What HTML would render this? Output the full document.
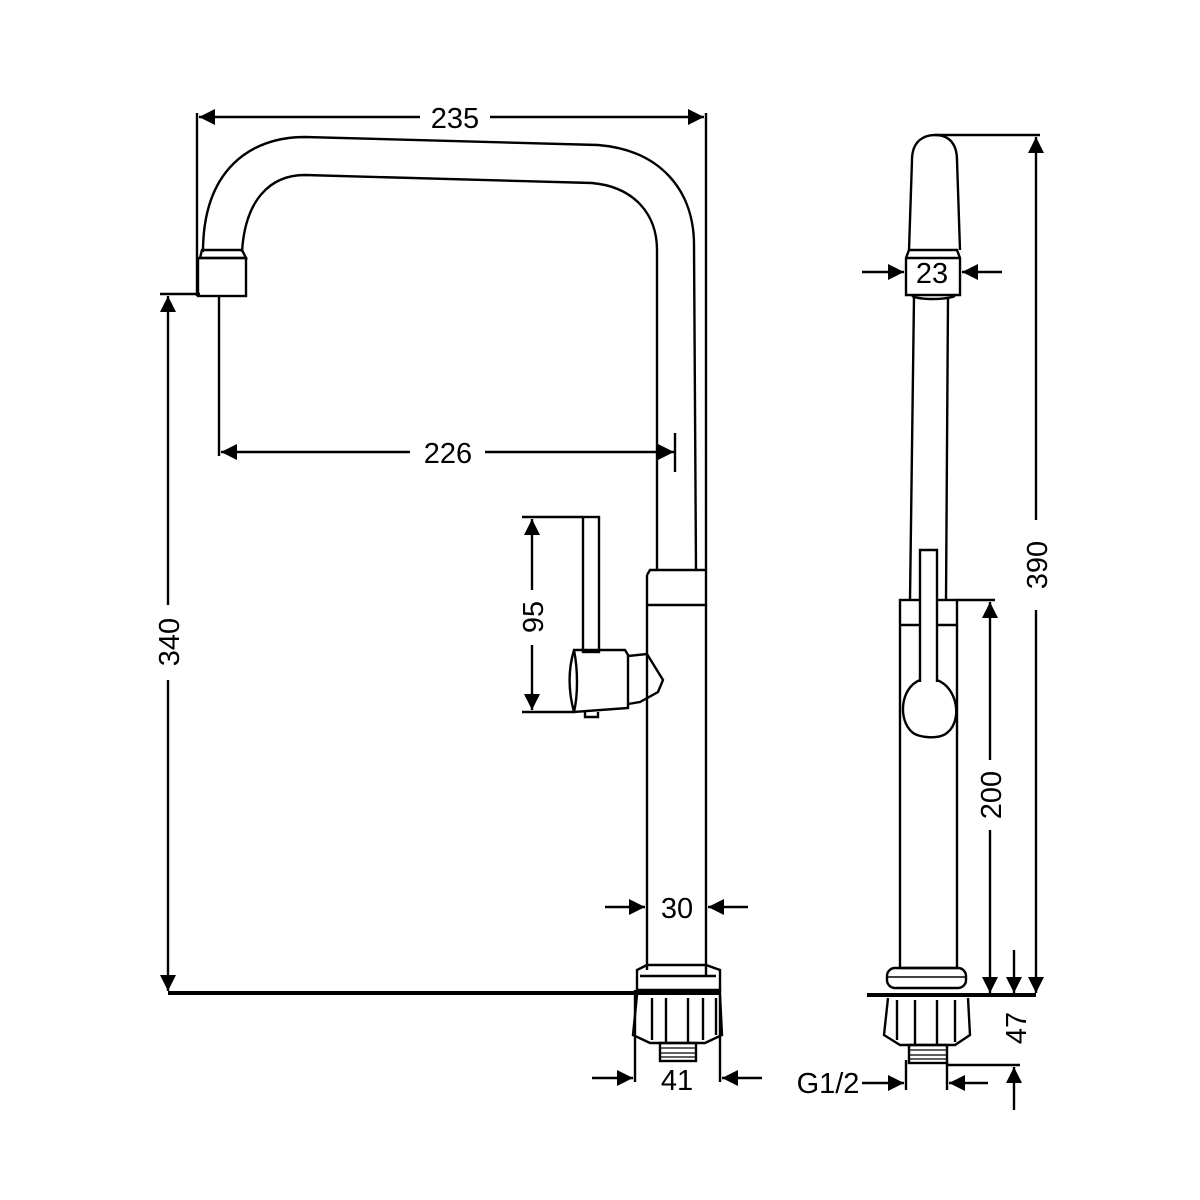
<!DOCTYPE html>
<html><head><style>html,body{margin:0;padding:0;background:#fff}svg{display:block}</style></head>
<body>
<svg width="1200" height="1200" viewBox="0 0 1200 1200" xmlns="http://www.w3.org/2000/svg" font-family="Liberation Sans, sans-serif">
<defs>
<marker id="a" viewBox="0 0 10 10" refX="10" refY="5" markerWidth="16" markerHeight="16" markerUnits="userSpaceOnUse" orient="auto"><path d="M0,0 L10,5 L0,10 z" fill="#000"/></marker>
</defs>
<g fill="none" stroke="#000" stroke-width="2.4">
<!-- LEFT VIEW -->
<path d="M203,252 C203,170 250,137 305,137 L598,145 C660,150 694,190 694,245 L696,570"/>
<path d="M242,252 C245,200 270,175 305,175 L592,183 C635,187 657,215 657,250 L657,570"/>
<path d="M200,258 L202,250 L242,250 L246,258 Z"/>
<rect x="198" y="258" width="48" height="38"/>
<line x1="706" y1="113" x2="706" y2="975"/>
<path d="M647,575 L650,570 L706,570 M647,575 L647,970 M647,605 L706,605"/>
<rect x="583" y="517" width="16" height="135"/>
<path d="M574,650 L625,650 L628,655 L628,708 L574,712 C568,690 568,670 574,650 Z"/>
<path d="M574,650 C578,670 578,695 574,712"/>
<path d="M628,656 L647,654 L663,680 L658,692 L640,702 L628,704"/>
<path d="M585,712 L585,717 L598,717 L598,712"/>
<path d="M637,970 L637,990 L720,990 L720,970 L706,965 L647,965 Z"/>
<path d="M640,976 L716,976"/>
<path d="M637,995 L633,1035 L650,1043 L705,1043 L722,1035 L720,995"/>
<path d="M652,998 L652,1040 M666,998 L666,1043 M688,998 L688,1043 M703,998 L703,1040 M716,998 L716,1035"/>
<rect x="660" y="1043" width="36" height="18"/>
<path d="M660,1048 H696 M660,1053 H696 M660,1057 H696" stroke-width="1.2"/>
<!-- dim 235 -->
<line x1="197" y1="113" x2="197" y2="296"/>
<line x1="420" y1="117" x2="199" y2="117" marker-end="url(#a)"/>
<line x1="490" y1="117" x2="704" y2="117" marker-end="url(#a)"/>
<!-- dim 226 -->
<line x1="219" y1="296" x2="219" y2="456"/>
<line x1="410" y1="452" x2="221" y2="452" marker-end="url(#a)"/>
<line x1="485" y1="452" x2="674" y2="452" marker-end="url(#a)"/>
<line x1="675" y1="433" x2="675" y2="472"/>
<!-- dim 340 -->
<line x1="160" y1="294" x2="200" y2="294"/>
<line x1="168" y1="605" x2="168" y2="296" marker-end="url(#a)"/>
<line x1="168" y1="680" x2="168" y2="991" marker-end="url(#a)"/>
<line x1="168" y1="993" x2="720" y2="993" stroke-width="4"/>
<!-- dim 95 -->
<line x1="522" y1="517" x2="583" y2="517"/>
<line x1="522" y1="712" x2="574" y2="712"/>
<line x1="532" y1="590" x2="532" y2="519" marker-end="url(#a)"/>
<line x1="532" y1="645" x2="532" y2="710" marker-end="url(#a)"/>
<!-- dim 30 -->
<line x1="605" y1="907" x2="645" y2="907" marker-end="url(#a)"/>
<line x1="748" y1="907" x2="708" y2="907" marker-end="url(#a)"/>
<!-- dim 41 -->
<line x1="635" y1="990" x2="635" y2="1082"/>
<line x1="720" y1="990" x2="720" y2="1082"/>
<line x1="592" y1="1078" x2="633" y2="1078" marker-end="url(#a)"/>
<line x1="762" y1="1078" x2="722" y2="1078" marker-end="url(#a)"/>

<!-- RIGHT VIEW -->
<path d="M909,250 L912,160 C912,140 925,135 935,135 C950,135 957,145 957,160 L960,250"/>
<path d="M909,250 L906,258 L906,295 L960,295 L960,258 L957,250 Z"/>
<path d="M906,258 L960,258"/>
<path d="M912,296 C920,300 945,300 955,296"/>
<path d="M914,297 L910,600 M948,297 L946,600"/>
<rect x="900" y="600" width="57" height="368"/>
<line x1="900" y1="625" x2="957" y2="625"/>
<path d="M920,680 C900,688 898,720 912,732 C918,738 940,740 948,732 C962,720 958,688 937,680" fill="#fff"/>
<path d="M920,682 L920,550 L937,550 L937,682" fill="#fff"/>
<rect x="887" y="968" width="79" height="20" rx="8"/>
<line x1="888" y1="977" x2="965" y2="977" stroke-width="1.5"/>
<line x1="867" y1="995" x2="1036" y2="995" stroke-width="4"/>
<path d="M888,998 L884,1035 L900,1045 L955,1045 L970,1035 L968,998"/>
<path d="M897,1000 L897,1040 M915,1000 L915,1045 M937,1000 L937,1045 M955,1000 L955,1042"/>
<rect x="909" y="1045" width="38" height="18"/>
<path d="M909,1050 H947 M909,1055 H947 M909,1059 H947" stroke-width="1.2"/>
<line x1="862" y1="272" x2="904" y2="272" marker-end="url(#a)"/>
<line x1="1002" y1="272" x2="962" y2="272" marker-end="url(#a)"/>
<line x1="935" y1="135" x2="1040" y2="135"/>
<line x1="1036" y1="520" x2="1036" y2="137" marker-end="url(#a)"/>
<line x1="1036" y1="610" x2="1036" y2="993" marker-end="url(#a)"/>
<line x1="957" y1="600" x2="995" y2="600"/>
<line x1="990" y1="760" x2="990" y2="602" marker-end="url(#a)"/>
<line x1="990" y1="830" x2="990" y2="993" marker-end="url(#a)"/>
<line x1="1014" y1="950" x2="1014" y2="993" marker-end="url(#a)"/>
<line x1="947" y1="1065" x2="1020" y2="1065"/>
<line x1="1014" y1="1110" x2="1014" y2="1067" marker-end="url(#a)"/>
<line x1="906" y1="1060" x2="906" y2="1090"/>
<line x1="947" y1="1063" x2="947" y2="1090"/>
<line x1="862" y1="1083" x2="904" y2="1083" marker-end="url(#a)"/>
<line x1="988" y1="1083" x2="949" y2="1083" marker-end="url(#a)"/>
</g>
<g font-size="29" fill="#000" text-anchor="middle">
<text x="455" y="128">235</text>
<text x="448" y="463">226</text>
<text x="179" y="642" transform="rotate(-90 179 642)">340</text>
<text x="543" y="617" transform="rotate(-90 543 617)">95</text>
<text x="677" y="918">30</text>
<text x="677" y="1090">41</text>
<text x="932" y="283">23</text>
<text x="1047" y="565" transform="rotate(-90 1047 565)">390</text>
<text x="1001" y="795" transform="rotate(-90 1001 795)">200</text>
<text x="1026" y="1028" transform="rotate(-90 1026 1028)">47</text>
<text x="828" y="1093">G1/2</text>
</g>
</svg>
</body></html>
